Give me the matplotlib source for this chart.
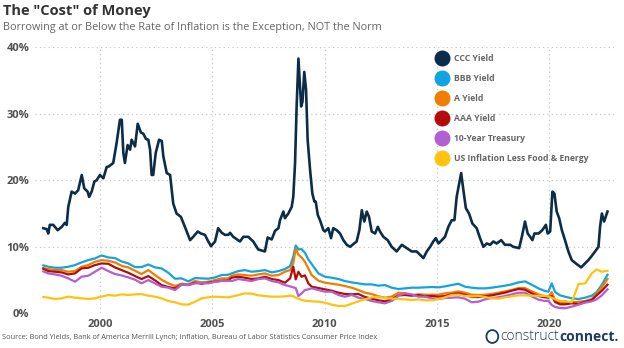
import matplotlib
matplotlib.use('Agg')
import matplotlib.pyplot as plt
from matplotlib.lines import Line2D
from matplotlib.patches import Ellipse

plt.rcParams['font.family'] = ['Open Sans', 'DejaVu Sans']

# CCC yield (%), irregular sampling to keep the spikes
ccc_years = [
    1997.48, 1997.63, 1997.70, 1997.77, 1997.92, 1998.12, 1998.30, 1998.44, 1998.52, 1998.59,
    1998.74, 1998.89, 1999.03, 1999.19, 1999.30, 1999.45, 1999.52, 1999.63, 1999.75, 1999.85,
    2000.00, 2000.15, 2000.30, 2000.40, 2000.59, 2000.74, 2000.89, 2000.97, 2001.04, 2001.11,
    2001.23, 2001.34, 2001.41, 2001.56, 2001.68, 2001.82, 2001.93, 2002.05, 2002.15, 2002.23,
    2002.30, 2002.37, 2002.48, 2002.63, 2002.75, 2002.82, 2002.97, 2003.12, 2003.26, 2003.41,
    2003.60, 2003.78, 2004.01, 2004.15, 2004.35, 2004.49, 2004.67, 2004.82, 2004.94, 2005.12,
    2005.26, 2005.42, 2005.56, 2005.71, 2005.79, 2005.93, 2006.23, 2006.38, 2006.60, 2006.82,
    2007.04, 2007.34, 2007.46, 2007.64, 2007.79, 2007.94, 2008.01, 2008.16, 2008.23, 2008.38,
    2008.53, 2008.60, 2008.68, 2008.75, 2008.83, 2008.95, 2009.01, 2009.09, 2009.17, 2009.24,
    2009.35, 2009.45, 2009.54, 2009.60, 2009.69, 2009.79, 2009.94, 2010.01, 2010.16, 2010.28,
    2010.38, 2010.53, 2010.68, 2010.83, 2010.98, 2011.13, 2011.27, 2011.42, 2011.54, 2011.65,
    2011.76, 2011.87, 2011.97, 2012.09, 2012.24, 2012.36, 2012.46, 2012.61, 2012.80, 2012.98,
    2013.20, 2013.43, 2013.65, 2013.87, 2014.09, 2014.24, 2014.39, 2014.54, 2014.69, 2014.83,
    2014.94, 2015.06, 2015.21, 2015.35, 2015.50, 2015.65, 2015.77, 2015.87, 2016.07, 2016.17,
    2016.28, 2016.42, 2016.57, 2016.76, 2016.91, 2017.06, 2017.21, 2017.36, 2017.50, 2017.65,
    2017.85, 2018.02, 2018.25, 2018.39, 2018.65, 2018.77, 2018.91, 2019.03, 2019.14, 2019.24,
    2019.33, 2019.51, 2019.68, 2019.84, 2019.92, 2020.03, 2020.13, 2020.22, 2020.32, 2020.43,
    2020.55, 2020.69, 2020.84, 2020.99, 2021.21, 2021.41, 2021.58, 2021.73, 2021.85, 2022.03,
    2022.18, 2022.25, 2022.33, 2022.43, 2022.58,
]
ccc_yield = [
    12.8, 12.65, 12.0, 13.3, 13.3, 12.5, 13.0, 13.6, 13.3, 16.0,
    18.3, 18.0, 18.5, 20.8, 18.8, 18.3, 17.5, 18.3, 19.8, 20.0,
    20.8, 20.3, 22.0, 22.1, 22.6, 25.6, 29.1, 29.1, 24.1, 22.6,
    25.3, 24.6, 26.1, 25.1, 28.5, 27.2, 27.0, 26.2, 26.1, 24.6,
    20.8, 20.8, 24.1, 26.1, 25.9, 23.6, 21.1, 20.8, 16.5, 15.0,
    14.5, 13.0, 11.0, 11.5, 12.3, 12.0, 11.8, 10.8, 10.1, 10.8,
    12.8, 12.1, 11.8, 11.8, 12.1, 11.5, 10.8, 11.5, 11.5, 10.8,
    9.6, 9.3, 11.4, 11.1, 12.4, 12.8, 14.0, 15.3, 14.3, 15.0,
    16.0, 17.5, 22.6, 31.1, 38.3, 31.1, 31.8, 36.3, 33.6, 26.1,
    21.5, 18.0, 16.8, 16.8, 14.8, 14.0, 12.5, 12.3, 12.8, 11.3,
    12.8, 12.5, 12.0, 11.0, 10.3, 10.0, 10.4, 10.8, 12.5, 15.5,
    13.8, 15.3, 14.5, 12.3, 12.0, 13.0, 12.3, 11.5, 11.0, 10.0,
    9.3, 10.3, 9.8, 9.3, 9.3, 8.8, 8.3, 9.3, 10.0, 10.8,
    11.3, 10.5, 11.0, 11.5, 13.0, 14.0, 14.0, 17.5, 21.1, 18.5,
    15.8, 15.0, 13.5, 12.8, 11.3, 10.0, 10.5, 10.3, 10.8, 10.5,
    11.0, 10.3, 10.3, 10.0, 9.8, 11.5, 13.8, 12.0, 11.5, 11.0,
    12.0, 12.0, 12.5, 13.3, 12.0, 12.3, 18.3, 18.0, 15.3, 14.3,
    12.5, 11.0, 9.3, 8.0, 7.4, 6.9, 7.5, 8.0, 8.5, 9.3,
    10.0, 13.0, 15.0, 13.8, 15.3,
]

# shared dates for the lower series
years = [
    1997.48, 1997.70, 1998.00, 1998.29, 1998.59, 1998.89, 1999.18, 1999.48, 1999.78, 2000.07,
    2000.37, 2000.67, 2000.96, 2001.26, 2001.56, 2001.85, 2002.15, 2002.45, 2002.74, 2003.04,
    2003.34, 2003.63, 2003.93, 2004.23, 2004.52, 2004.82, 2005.12, 2005.41, 2005.71,
    2005.86, 2006.16, 2006.45, 2006.75, 2007.05, 2007.34, 2007.64, 2007.94, 2008.23, 2008.46,
    2008.60, 2008.71, 2008.83, 2008.97, 2009.12, 2009.27, 2009.42, 2009.72, 2010.01, 2010.31,
    2010.61, 2010.90, 2011.20, 2011.50, 2011.79, 2012.09, 2012.39, 2012.68, 2012.98, 2013.28,
    2013.57, 2013.87, 2014.17,
    2014.46, 2014.76, 2015.06, 2015.35, 2015.65, 2015.95, 2016.24, 2016.54, 2016.84, 2017.13,
    2017.43, 2017.73, 2018.02, 2018.32, 2018.62, 2018.91, 2019.21, 2019.51, 2019.80, 2019.95,
    2020.10, 2020.25, 2020.47, 2020.69, 2020.99, 2021.29, 2021.59, 2021.88, 2022.10, 2022.33,
    2022.58,
]
bbb_yield = [
    7.2, 7.0, 6.85, 6.85, 7.0, 7.25, 7.65, 8.0, 8.25, 8.7,
    8.4, 8.3, 7.8, 7.5, 6.95, 6.95, 7.35, 6.9, 6.75, 6.1,
    5.2, 5.25, 4.8, 5.3, 5.25, 5.2, 5.4, 5.75, 5.8,
    6.0, 6.35, 6.5, 6.25, 6.35, 6.5, 6.15, 6.35, 6.65, 7.1,
    8.5, 10.2, 9.6, 9.65, 9.1, 8.1, 7.4, 6.0, 5.5, 5.35,
    5.15, 4.85, 4.65, 4.5, 4.35, 4.35, 4.15, 4.25, 3.85, 3.65,
    3.75, 3.85, 3.85,
    3.9, 3.95, 3.9, 4.05, 4.25, 4.45, 4.0, 3.85, 3.75, 3.75,
    3.85, 4.0, 4.15, 4.35, 4.65, 4.8, 4.3, 3.75, 3.35, 3.25,
    4.5, 3.2, 2.7, 2.5, 2.25, 2.15, 2.35, 2.65, 3.2, 4.3,
    5.8,
]
a_yield = [
    6.8, 6.65, 6.5, 6.5, 6.25, 6.35, 7.0, 7.25, 7.75, 8.0,
    7.9, 7.65, 7.15, 6.9, 6.4, 5.9, 6.5, 5.75, 5.05, 4.5,
    4.1, 4.45, 4.35, 4.85, 4.65, 4.75, 5.0, 5.25, 5.25,
    5.65, 5.85, 5.75, 5.65, 5.85, 6.0, 5.65, 5.75, 6.25, 6.5,
    7.5, 9.75, 8.8, 8.4, 7.75, 6.75, 5.75, 4.9, 4.6, 4.45,
    4.3, 4.1, 3.85, 3.5, 3.1, 2.9, 2.55, 2.35, 2.5, 3.1,
    3.0, 2.75, 2.85,
    2.8, 2.8, 2.8, 3.0, 3.1, 3.3, 3.1, 2.8, 2.75, 2.8,
    2.9, 3.1, 3.3, 3.5, 3.8, 3.8, 3.3, 2.85, 2.55, 2.5,
    3.2, 2.0, 1.6, 1.5, 1.65, 1.75, 1.85, 2.15, 3.0, 3.9,
    5.15,
]
aaa_yield = [
    6.7, 6.35, 6.25, 6.15, 5.85, 6.0, 6.75, 6.85, 7.25, 7.5,
    7.45, 6.9, 6.5, 6.1, 5.6, 5.15, 5.6, 4.95, 4.25, 3.95,
    3.75, 4.3, 4.25, 4.6, 4.45, 4.6, 4.75, 4.9, 4.95,
    5.35, 5.5, 5.35, 5.15, 5.25, 5.5, 5.15, 5.0, 4.6, 5.25,
    7.0, 5.1, 6.25, 5.5, 5.7, 4.5, 4.0, 3.8, 3.6, 3.4,
    3.1, 2.9, 2.85, 2.9, 2.45, 2.2, 1.95, 1.8, 2.1, 2.7,
    2.75, 2.65, 2.75,
    2.55, 2.6, 2.5, 2.6, 2.85, 3.0, 2.8, 2.45, 2.45, 2.55,
    2.7, 2.9, 3.1, 3.4, 3.65, 3.55, 3.0, 2.6, 2.4, 2.35,
    2.6, 1.7, 1.35, 1.35, 1.5, 1.4, 1.75, 2.0, 2.7, 3.4,
    4.3,
]
treasury_10y = [
    6.3, 6.0, 5.85, 5.65, 5.25, 4.75, 5.5, 5.65, 6.25, 6.85,
    6.35, 5.9, 5.7, 5.4, 5.05, 4.5, 5.0, 4.5, 4.0, 3.85,
    3.5, 4.3, 4.25, 4.5, 4.6, 4.5, 4.75, 4.85, 4.9,
    4.85, 5.15, 5.0, 4.85, 5.15, 5.25, 4.85, 4.65, 4.25, 4.05,
    3.9, 3.8, 2.6, 3.0, 3.5, 3.6, 3.75, 3.5, 3.25, 3.25,
    2.75, 2.5, 2.75, 2.35, 2.15, 1.85, 1.65, 1.5, 1.85, 2.65,
    3.0, 2.85, 2.5,
    2.5, 2.25, 2.15, 2.3, 2.35, 2.4, 2.2, 1.65, 1.75, 2.1,
    2.3, 2.4, 2.6, 2.85, 3.1, 3.1, 2.55, 2.05, 1.85, 1.9,
    1.25, 0.95, 0.8, 0.75, 1.0, 1.3, 1.6, 1.8, 2.1, 2.7,
    3.6,
]
core_inflation = [
    2.45, 2.35, 2.15, 2.25, 2.5, 2.35, 2.25, 2.15, 2.25, 2.5,
    2.75, 2.65, 2.85, 2.75, 2.85, 2.9, 2.65, 2.5, 2.25, 1.85,
    1.65, 1.35, 1.3, 1.75, 2.25, 2.4, 2.5, 2.45, 2.4,
    2.5, 2.75, 3.0, 2.95, 2.7, 2.6, 2.5, 2.5, 2.55, 2.65,
    2.55, 2.35, 2.2, 2.0, 1.9, 1.85, 1.8, 1.75, 1.6, 1.3,
    1.1, 1.1, 1.45, 1.8, 2.1, 2.4, 2.45, 2.3, 2.2, 2.15,
    2.1, 2.0, 2.1,
    1.95, 1.95, 2.15, 2.4, 2.75, 2.8, 2.6, 2.55, 2.6, 2.45,
    2.25, 2.2, 2.4, 2.55, 2.7, 2.7, 2.65, 2.65, 2.6, 2.5,
    2.35, 2.1, 1.85, 1.85, 1.65, 4.4, 4.5, 6.0, 6.6, 6.25,
    6.4,
]

series_labels = ['CCC Yield', 'BBB Yield', 'A Yield', 'AAA Yield',
                 '10-Year Treasury', 'US Inflation Less Food & Energy']
colors = ['#0c2d48', '#12a3e3', '#f07d00', '#b30c0c', '#b25fd3', '#ffc20e']
x_ticks = [2000, 2005, 2010, 2015, 2020]
y_ticks = [0, 10, 20, 30, 40]

fig = plt.figure(figsize=(6.24, 3.48), dpi=100)
ax = fig.add_axes([35 / 624, 1 - 313.3 / 348, 579 / 624, 266 / 348])

lower = [bbb_yield, a_yield, aaa_yield, treasury_10y, core_inflation]
ax.plot(ccc_years, ccc_yield, color=colors[0], lw=1.9, zorder=3,
        solid_joinstyle='round')
for i, vals in enumerate(lower, start=1):
    ax.plot(years, vals, color=colors[i], lw=1.6, zorder=3 + i,
            solid_joinstyle='round')

ax.set_xlim(1997.11, 2022.87)
ax.set_ylim(0, 40)
ax.set_xticks(x_ticks)
ax.set_xticklabels([str(t) for t in x_ticks])
ax.set_yticks(y_ticks)
ax.set_yticklabels([f'{t}%' for t in y_ticks])
ax.tick_params(length=0, labelsize=8, labelcolor='#505050', pad=4)
for lbl in ax.get_xticklabels() + ax.get_yticklabels():
    lbl.set_fontweight('bold')
ax.grid(True, color='#c8c8c8', linestyle=(0, (1, 2.5)), lw=0.9)
ax.set_axisbelow(True)
for sp in ax.spines.values():
    sp.set_visible(False)
ax.patch.set_alpha(0)

handles = [Line2D([], [], marker='o', ls='none', markersize=10.5,
                  markerfacecolor=c, markeredgecolor=c) for c in colors]
leg = ax.legend(handles, series_labels, loc='upper left',
                bbox_to_anchor=(0.682, 0.986), frameon=False,
                handletextpad=0.43, labelspacing=1.27, borderaxespad=0,
                prop={'size': 6.2, 'weight': 'bold'})
for t in leg.get_texts():
    t.set_color('#666666')

fig.text(0.005, 0.968, 'The "Cost" of Money', fontsize=10.5, fontweight='bold',
         color='#333333', va='center', ha='left')
fig.text(0.005, 0.922,
         'Borrowing at or Below the Rate of Inflation is the Exception, NOT the Norm',
         fontsize=7.8, color='#666666', va='center', ha='left')
fig.text(0.004, 0.029,
         'Source: Bond Yields, Bank of America Merrill Lynch; Inflation, '
         'Bureau of Labor Statistics Consumer Price Index',
         fontsize=5.3, color='#555555', va='center', ha='left')

# constructconnect wordmark
fig.text(0.802, 0.033, 'construct', fontsize=10, color='#1d3c5c',
         va='center', ha='left', fontweight='light')
fig.text(0.896, 0.033, 'connect.', fontsize=10, color='#1d3c5c',
         va='center', ha='left', fontweight='bold')
fig.add_artist(Ellipse((0.789, 0.033), 0.019, 0.037, transform=fig.transFigure,
                       fill=False, edgecolor='#1d3c5c', lw=1.3))

fig.savefig('out.png', dpi=100)
